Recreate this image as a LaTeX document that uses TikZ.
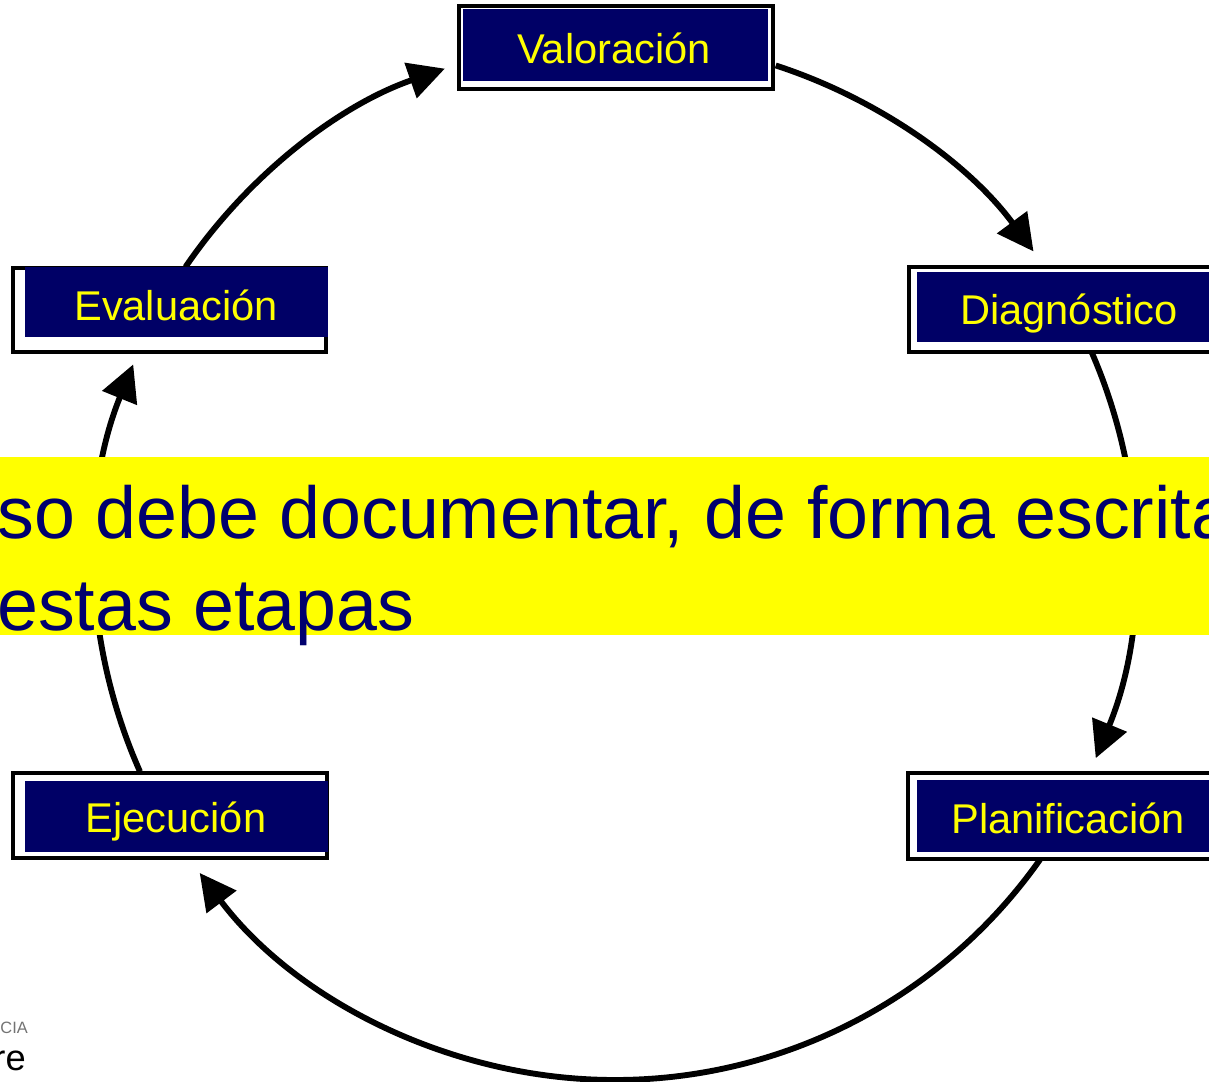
\documentclass[tikz,border=0pt]{standalone}
\usepackage{fontspec}
\setmainfont{Liberation Sans}
\usetikzlibrary{arrows.meta}
\definecolor{boxnavy}{RGB}{0,0,102}
\definecolor{textnavy}{RGB}{0,0,110}
\definecolor{banner}{RGB}{255,255,0}
\tikzset{
  frame/.style={draw=black, line width=2.9pt, fill=white},
  navyfill/.style={fill=boxnavy},
  lbl/.style={text=banner, font=\fontsize{35.5}{40}\selectfont, inner sep=0pt, anchor=base},
  cyc/.style={line width=5pt, -{Triangle[length=31pt,width=31pt]}},
  bannertxt/.style={text=textnavy, font=\fontsize{62.8}{70}\selectfont, inner sep=0pt, anchor=base west},
}
\begin{document}
\begin{tikzpicture}[x=0.03cm,y=-0.03cm]
\clip (0,0) rectangle (1209,1081);
\fill[white] (0,0) rectangle (1209,1081);
\coordinate (O) at (615,560);
% cycle arcs
\coordinate (s1) at ([shift={(-145.7:520)}]O);
\coordinate (s2) at ([shift={(-72:520)}]O);
\coordinate (s3) at ([shift={(-23.6:520)}]O);
\coordinate (s4) at ([shift={(35.2:520)}]O);
\coordinate (s5) at ([shift={(156:520)}]O);
\draw[cyc] (s1) arc[start angle=-145.7, end angle=-109.1, radius=520];
\draw[cyc] (s2) arc[start angle=-72, end angle=-36.4, radius=520];
\draw[cyc] (s3) arc[start angle=-23.6, end angle=22.4, radius=520];
\draw[cyc] (s4) arc[start angle=35.2, end angle=143, radius=520];
\draw[cyc] (s5) arc[start angle=156, end angle=202.1, radius=520];
% Valoracion
\path[frame] (459,6) rectangle (773,89);
\fill[navyfill] (463,9) rectangle (768,81);
\node[lbl] (val) at (614,63) {Valoración};
% Evaluacion
\path[frame] (13,268) rectangle (326,352);
\fill[navyfill] (25,267) rectangle (328,337);
\node[lbl] (eva) at (176,320) {Evaluación};
% Diagnostico
\path[frame] (909,267) rectangle (1230,352);
\fill[navyfill] (917,272) rectangle (1230,342);
\node[lbl] (dia) at (1069,324) {Diagnóstico};
% Ejecucion
\path[frame] (13,773) rectangle (327,858);
\fill[navyfill] (25,781) rectangle (328,852);
\node[lbl] (eje) at (176,832) {Ejecución};
% Planificacion
\path[frame] (908,773) rectangle (1230,859);
\fill[navyfill] (917,780) rectangle (1230,852);
\node[lbl] (pla) at (1068,833) {Planificación};
% banner
\fill[banner] (0,457) rectangle (1209,635);
\node[bannertxt] (b1) at (-3,538) {so debe documentar, de forma escrita};
\node[bannertxt] (b2) at (-3,630) {estas etapas};
% logo fragment
\node[text=black!55, font=\fontsize{14}{15}\selectfont, inner sep=0pt, anchor=base east] (logo1) at (28,1033) {CIA};
\node[text=black, font=\fontsize{31}{32}\selectfont, inner sep=0pt, anchor=base east] (logo2) at (26,1070) {re};
\end{tikzpicture}
\end{document}
